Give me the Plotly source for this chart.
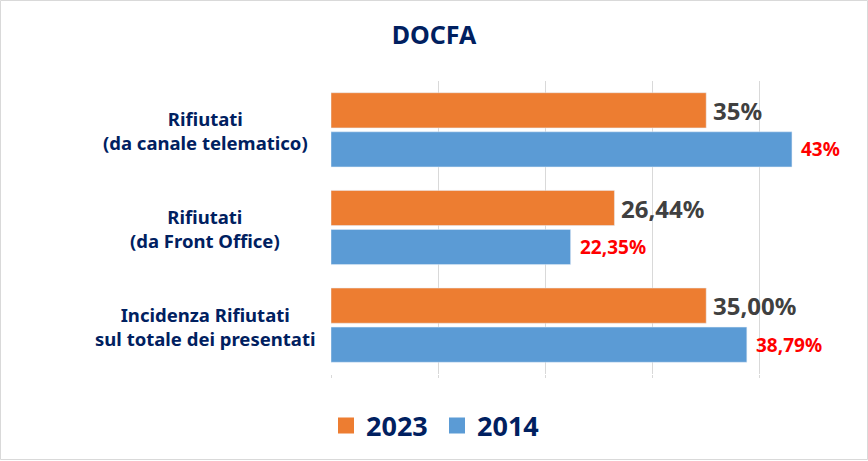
import plotly.graph_objects as go

categories = ["Rifiutati<br>(da canale telematico)",
              "Rifiutati<br>(da Front Office)",
              "Incidenza Rifiutati<br>sul totale dei presentati"]
values_2023 = [35.0, 26.44, 35.0]
values_2014 = [43.0, 22.35, 38.79]
labels_2023 = ["35%", "26,44%", "35,00%"]
labels_2014 = ["43%", "22,35%", "38,79%"]
series_names = ["2023", "2014"]
x_ticks = [0, 10, 20, 30, 40, 50]

ORANGE = "#ED7D31"
BLUE = "#5B9BD5"
NAVY = "#002060"
FONT = "Noto Sans"

W, H = 868, 461
L, R, T, B = 331, 1, 81, 87

pw = W - L - R
ph = H - T - B
def px2x(p):
    return (p - L) / pw
def px2y(p):
    return (H - B - p) / ph

fig = go.Figure()
fig.add_trace(go.Bar(y=categories, x=values_2023, orientation="h", name=series_names[0],
                     marker=dict(color=ORANGE), showlegend=False))
fig.add_trace(go.Bar(y=categories, x=values_2014, orientation="h", name=series_names[1],
                     marker=dict(color=BLUE), showlegend=False))
# legend entries with larger square symbols
for nm, col in zip(series_names, [ORANGE, BLUE]):
    fig.add_trace(go.Scatter(x=[None], y=[None], mode="markers", name=f"<b>{nm}</b>",
                             marker=dict(symbol="square", size=16, color=col)))

ann = []
for cat, v, t in zip(categories, values_2023, labels_2023):
    ann.append(dict(x=v, y=cat, xref="x", yref="y", text=f"<b>{t}</b>", showarrow=False,
                    xanchor="left", yanchor="middle", xshift=5, yshift=19.5,
                    font=dict(family=FONT, size=24, color="#404040")))
for cat, v, t in zip(categories, values_2014, labels_2014):
    ann.append(dict(x=v, y=cat, xref="x", yref="y", text=f"<b>{t}</b>", showarrow=False,
                    xanchor="left", yanchor="middle", xshift=7, yshift=-19.5,
                    font=dict(family=FONT, size=19, color="#FF0000")))
for cat in categories:
    ann.append(dict(x=px2x(205), y=cat, xref="paper", yref="y",
                    text=f"<b>{cat}</b>", showarrow=False, align="center",
                    xanchor="center", yanchor="middle", yshift=-1,
                    font=dict(family=FONT, size=18.5, color=NAVY)))

fig.update_layout(
    width=W, height=H,
    margin=dict(l=L, r=R, t=T, b=B, autoexpand=False),
    paper_bgcolor="white", plot_bgcolor="white",
    barmode="group", bargap=0.2, bargroupgap=0.1,
    title=dict(text="<b>DOCFA</b>", x=0.5, xref="container", xanchor="center",
               y=1 - 35 / H, yref="container", yanchor="middle",
               font=dict(family=FONT, size=25, color=NAVY)),
    xaxis=dict(range=[0, 50], tickvals=x_ticks, showticklabels=False, showgrid=True,
               gridcolor="#D9D9D9", gridwidth=1, zeroline=False, showline=False,
               ticks="outside", ticklen=3, tickcolor="#D9D9D9"),
    yaxis=dict(autorange="reversed", showticklabels=False, showgrid=False,
               zeroline=False, showline=False, ticks=""),
    legend=dict(orientation="h", x=px2x(326), xanchor="left",
                y=1 - 426 / H, yref="container", yanchor="middle",
                entrywidth=66, entrywidthmode="pixels",
                font=dict(family=FONT, size=27, color=NAVY),
                bgcolor="rgba(0,0,0,0)"),
    annotations=ann,
    shapes=[dict(type="rect", xref="paper", yref="paper",
                 x0=px2x(0.5), x1=px2x(W - 0.5), y0=px2y(H - 1.5), y1=px2y(0.5),
                 line=dict(color="#D9D9D9", width=1), fillcolor="rgba(0,0,0,0)")],
    font=dict(family=FONT),
)

fig.write_html(
    "out.html",
    config={"displayModeBar": False},
    post_script="document.body.style.margin='0';document.body.style.padding='0';"
                "document.body.style.overflow='hidden';",
)
